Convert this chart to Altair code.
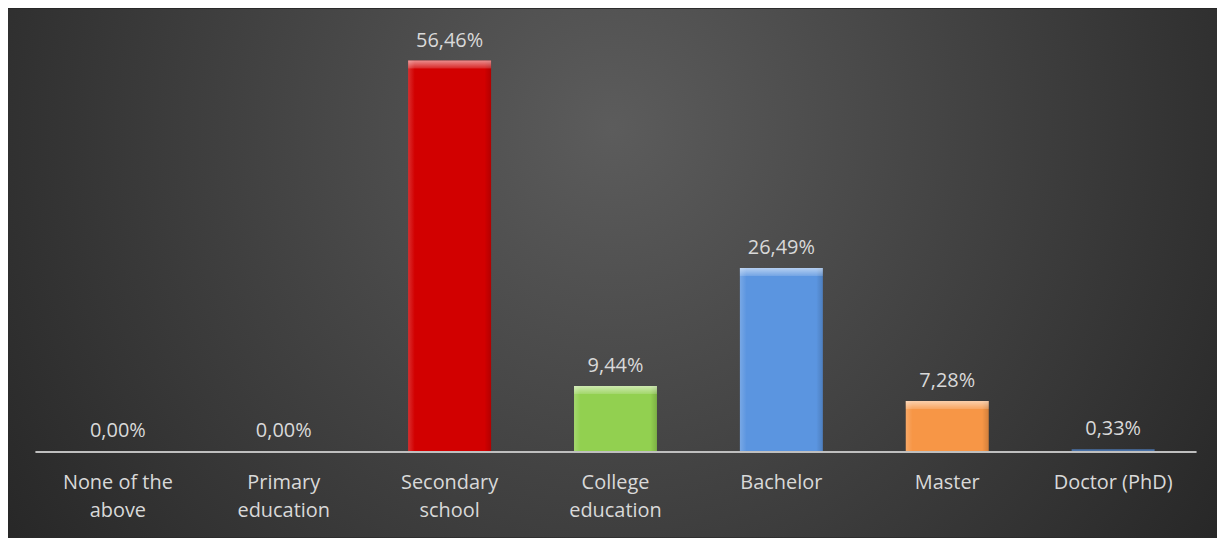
import altair as alt
import pandas as pd

categories = ["None of the\nabove", "Primary\neducation", "Secondary\nschool",
              "College\neducation", "Bachelor", "Master", "Doctor (PhD)"]
values = [0.00, 0.00, 56.46, 9.44, 26.49, 7.28, 0.33]
value_labels = ["0,00%", "0,00%", "56,46%", "9,44%", "26,49%", "7,28%", "0,33%"]
bar_colors = ["#7f7f7f", "#7f7f7f", "#d20000", "#92d050", "#5b95e0", "#f79646", "#4a72a8"]

df = pd.DataFrame({"cat": categories, "value": values, "label": value_labels})

W, H = 1165, 432
PAD = {"left": 27, "top": 12, "right": 21, "bottom": 86}

xenc = alt.X("cat:N", sort=categories,
             scale=alt.Scale(paddingInner=0.5, paddingOuter=0.25),
             axis=alt.Axis(title=None, labelAngle=0, ticks=False, zindex=2,
                           labelExpr="split(datum.label, '\\n')",
                           labelFont="Open Sans", labelFontSize=20,
                           labelColor="#d9d9d9", labelLineHeight=28,
                           labelPadding=21, domainColor="#bfbfbf",
                           domainWidth=2, grid=False))
yscale = alt.Scale(domain=[0, 62.2])
yenc = alt.Y("value:Q", scale=yscale, axis=None)
cenc = alt.Color("cat:N", sort=categories,
                 scale=alt.Scale(domain=categories, range=bar_colors), legend=None)

bg = alt.Chart(pd.DataFrame({"a": [0]})).mark_rect(
    color={"gradient": "radial", "x1": 0.5, "y1": 0.38, "r1": 0,
           "x2": 0.5, "y2": 0.38, "r2": 0.62,
           "stops": [{"offset": 0, "color": "#5c5c5c"},
                     {"offset": 1, "color": "#262626"}]}
).encode(x=alt.value(-PAD["left"]), x2=alt.value(W + PAD["right"]),
         y=alt.value(-PAD["top"]), y2=alt.value(H + PAD["bottom"]))

bars = alt.Chart(df).mark_bar().encode(x=xenc, y=yenc, color=cenc)

top_hl = alt.Chart(df).transform_filter("datum.value > 3").mark_bar(
    y2Offset=8,
    color={"gradient": "linear", "x1": 0, "y1": 0, "x2": 0, "y2": 1,
           "stops": [{"offset": 0, "color": "rgba(255,255,255,0.55)"},
                     {"offset": 1, "color": "rgba(255,255,255,0.15)"}]}
).encode(x=xenc, y=yenc, y2=alt.Y2("value:Q"))

side_hl = alt.Chart(df).transform_filter("datum.value > 3").mark_bar(
    color={"gradient": "linear", "x1": 0, "y1": 0, "x2": 1, "y2": 0,
           "stops": [{"offset": 0, "color": "rgba(255,255,255,0.18)"},
                     {"offset": 0.08, "color": "rgba(255,255,255,0.0)"},
                     {"offset": 0.92, "color": "rgba(0,0,0,0.0)"},
                     {"offset": 1, "color": "rgba(0,0,0,0.15)"}]}
).encode(x=xenc, y=yenc)

text = alt.Chart(df).mark_text(
    baseline="bottom", dy=-10, font="Open Sans", fontSize=20, color="#d9d9d9"
).encode(x=xenc, y=yenc, text="label:N")

chart = alt.layer(bg, bars, side_hl, top_hl, text).properties(
    width=W, height=H,
    autosize=alt.AutoSizeParams(type="none"),
    padding=PAD,
    background="#262626",
).configure_view(stroke=None)

chart.save("out.html", embed_options={"renderer": "svg", "actions": False})
